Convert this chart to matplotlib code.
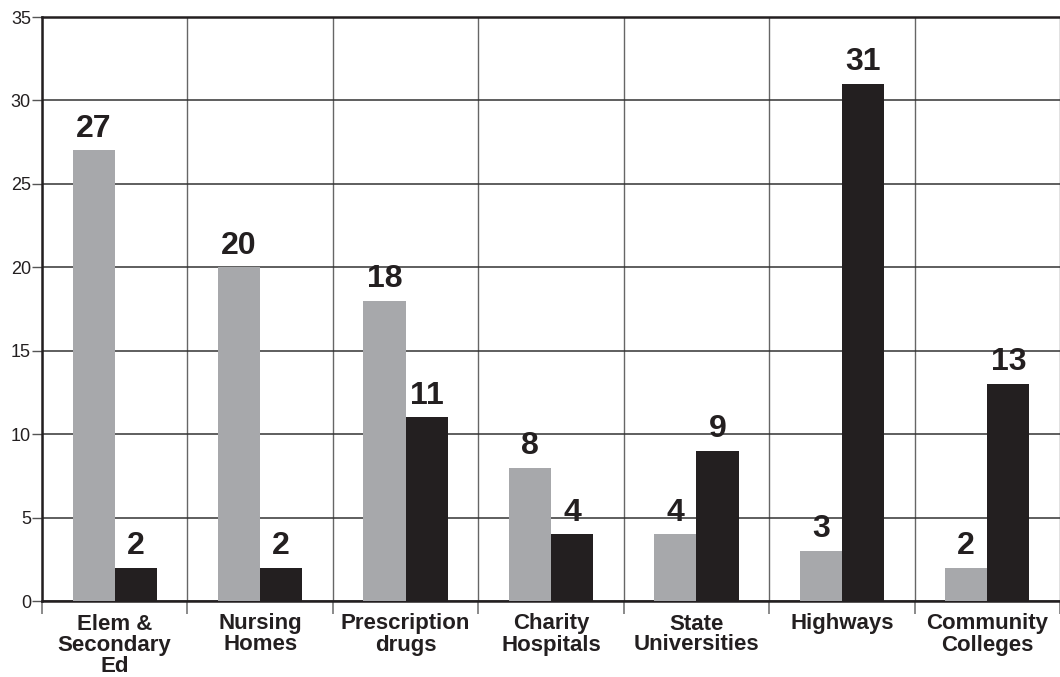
import numpy as np
import matplotlib
matplotlib.use('Agg')
import matplotlib.pyplot as plt

plt.rcParams['font.family'] = ['Liberation Sans', 'DejaVu Sans']

# data
categories = ['Elem &\nSecondary\nEd', 'Nursing\nHomes', 'Prescription\ndrugs',
              'Charity\nHospitals', 'State\nUniversities', 'Highways',
              'Community\nColleges']
gray_vals = [27, 20, 18, 8, 4, 3, 2]
black_vals = [2, 2, 11, 4, 9, 31, 13]
y_ticks = [0, 5, 10, 15, 20, 25, 30, 35]

fig = plt.figure(figsize=(10.6, 6.77), dpi=100)
ax = fig.add_axes([42 / 1060, 76 / 677, 1 - 42 / 1060, (601 - 17) / 677])

x = np.arange(len(categories)) + 0.5
w = 0.29
ax.bar(x - w / 2, gray_vals, w, color='#a7a8ab', zorder=3)
ax.bar(x + w / 2, black_vals, w, color='#231f20', zorder=3)

# value labels
for xi, v in zip(x - w / 2, gray_vals):
    ax.text(xi, v + 0.4, str(v), ha='center', va='bottom', fontsize=23,
            fontweight='bold', color='#231f20', zorder=4)
for xi, v in zip(x + w / 2, black_vals):
    ax.text(xi, v + 0.4, str(v), ha='center', va='bottom', fontsize=23,
            fontweight='bold', color='#231f20', zorder=4)

ax.set_xlim(0, len(categories))
ax.set_ylim(0, 35)
ax.set_yticks(y_ticks)
ax.tick_params(axis='y', labelsize=13, length=7, width=1, color='#555555',
               labelcolor='#231f20', pad=1)

ax.set_xticks(x)
ax.set_xticklabels(categories, fontsize=16, fontweight='bold', color='#231f20',
                   linespacing=1.0)
ax.tick_params(axis='x', which='major', length=0, pad=9)
ax.set_xticks(np.arange(len(categories) + 1), minor=True)
ax.tick_params(axis='x', which='minor', length=9, width=1.2, color='#777777')

ax.grid(axis='y', which='major', color='#333333', linewidth=1.1, zorder=0)
ax.grid(axis='x', which='minor', color='#666666', linewidth=1, zorder=0)
ax.set_axisbelow(True)

for s in ['left', 'bottom', 'top']:
    ax.spines[s].set_linewidth(1.8)
    ax.spines[s].set_color('#231f20')
ax.spines['right'].set_visible(False)

plt.savefig('out.png', dpi=100)
